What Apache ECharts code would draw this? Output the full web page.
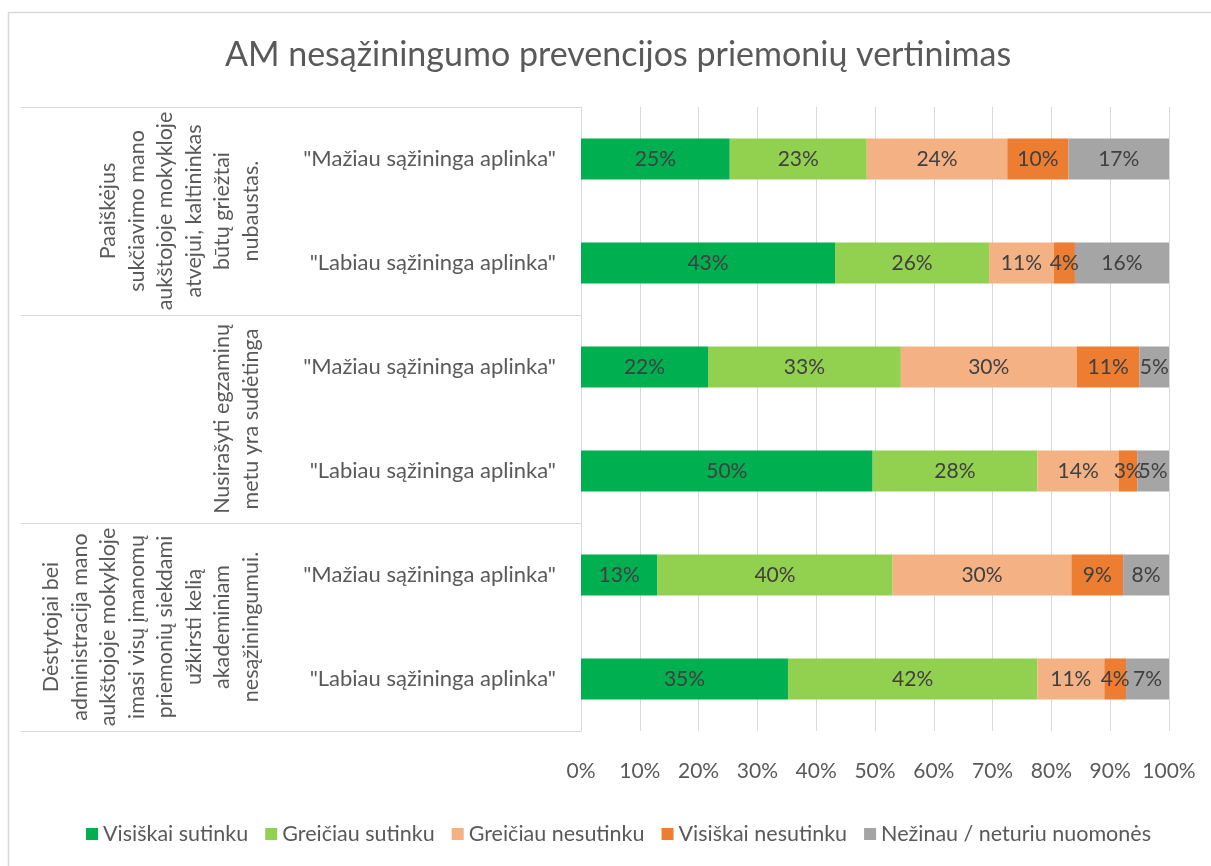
<!DOCTYPE html>
<html>
<head>
<meta charset="utf-8">
<script src="https://cdn.jsdelivr.net/npm/echarts@6/dist/echarts.min.js"></script>
<style>
html,body{margin:0;padding:0;background:#fff;}
#chart{width:1211px;height:866px;}
</style>
</head>
<body>
<div id="chart"></div>
<script>
const title = 'AM nesąžiningumo prevencijos priemonių vertinimas';
const categories = [
  '"Mažiau sąžininga aplinka"',
  '"Labiau sąžininga aplinka"',
  '"Mažiau sąžininga aplinka"',
  '"Labiau sąžininga aplinka"',
  '"Mažiau sąžininga aplinka"',
  '"Labiau sąžininga aplinka"'
];
const groups = [
  'Paaiškėjus\nsukčiavimo mano\naukštojoje mokykloje\natvejui, kaltininkas\nbūtų griežtai\nnubaustas.',
  'Nusirašyti egzaminų\nmetu yra sudėtinga',
  'Dėstytojai bei\nadministracija mano\naukštojoje mokykloje\nimasi visų įmanomų\npriemonių siekdami\nužkirsti kelią\nakademiniam\nnesąžiningumui.'
];
const seriesNames = ['Visiškai sutinku', 'Greičiau sutinku', 'Greičiau nesutinku', 'Visiškai nesutinku', 'Nežinau / neturiu nuomonės'];
const visiskaiSutinku   = [25.3, 43.2, 21.6, 49.6, 13.0, 35.2];
const greiciauSutinku   = [23.3, 26.2, 32.8, 28.0, 40.0, 42.4];
const greiciauNesutinku = [23.9, 11.0, 29.9, 13.9, 30.4, 11.4];
const visiskaiNesutinku = [10.4,  3.6, 10.7,  3.1,  8.8,  3.7];
const nezinau           = [17.1, 16.0,  5.0,  5.4,  7.8,  7.3];
const xTicks = [0, 10, 20, 30, 40, 50, 60, 70, 80, 90, 100];

const colors = ['#00B050', '#92D050', '#F4B183', '#ED7D31', '#A5A5A5'];
const values = [visiskaiSutinku, greiciauSutinku, greiciauNesutinku, visiskaiNesutinku, nezinau];
const FONT = 'Lato';

const chart = echarts.init(document.getElementById('chart'), null, {renderer: 'canvas'});
chart.setOption({
  backgroundColor: '#fff',
  textStyle: {fontFamily: FONT},
  title: {
    text: title,
    left: 613, top: 33, textAlign: 'center',
    textStyle: {fontFamily: FONT, fontSize: 34, fontWeight: 'normal', color: '#595959'}
  },
  graphic: [
    {type: 'polyline', shape: {points: [[8.5, 870], [8.5, 12.5], [1215, 12.5]]},
     style: {stroke: '#d9d9d9', lineWidth: 1.5, fill: null}, silent: true}
  ],
  legend: {
    data: seriesNames,
    left: 86, top: 822, padding: 0,
    itemWidth: 12, itemHeight: 12, itemGap: 17,
    icon: 'rect',
    textStyle: {fontFamily: FONT, fontSize: 21.5, color: '#595959', lineHeight: 24}
  },
  grid: {left: 581, right: 42, top: 107, bottom: 135, containLabel: false},
  xAxis: {
    type: 'value', min: xTicks[0], max: xTicks[xTicks.length - 1], interval: 10,
    axisLine: {show: false}, axisTick: {show: false},
    splitLine: {show: true, lineStyle: {color: '#d9d9d9', width: 1}},
    axisLabel: {formatter: '{value}%', fontFamily: FONT, fontSize: 21, color: '#595959', margin: 30}
  },
  yAxis: [
    {
      type: 'category', data: categories, inverse: true, position: 'left',
      axisLine: {show: false}, axisTick: {show: false},
      axisLabel: {fontFamily: FONT, fontSize: 22, color: '#595959', margin: 25, interval: 0}
    },
    {
      type: 'category', data: groups, inverse: true, position: 'left', offset: 0,
      axisLine: {show: true, lineStyle: {color: '#d9d9d9', width: 1}},
      axisTick: {show: true, length: 560, lineStyle: {color: '#d9d9d9', width: 1}},
      axisLabel: {fontFamily: FONT, fontSize: 21.5, color: '#595959', margin: 316,
                  rotate: 90, interval: 0, lineHeight: 28.5, align: 'center'}
    }
  ],
  series: seriesNames.map((name, i) => ({
    name: name, type: 'bar', stack: 'total', yAxisIndex: 0,
    data: values[i], barWidth: '39.5%',
    itemStyle: {color: colors[i]},
    label: {show: true, position: 'inside', fontFamily: FONT, fontSize: 21, color: '#404040',
            formatter: p => Math.round(p.value) + '%'},
    emphasis: {disabled: true}
  })),
  animation: false
});
</script>
</body>
</html>
